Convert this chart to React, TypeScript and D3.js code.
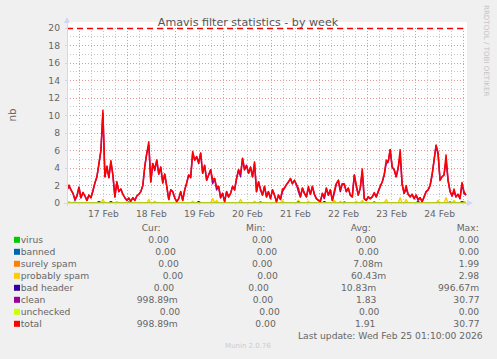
import React from 'react';
import * as d3 from 'd3';

const W = 497;
const H = 359;

const START = new Date(2026, 1, 16, 17, 50);
const END = new Date(2026, 1, 25, 1, 10);

// hourly samples of "clean"
const cleanValues = [
  1.5, 1.9, 1.5, 1.1, 0.3, 0.8, 1.8, 0.6, 1.2, 0.8,
  0.3, 0.9, 0.6, 1.4, 2.3, 3.0, 4.4, 6.0, 10.2, 3.0,
  4.2, 2.9, 4.7, 3.2, 0.7, 2.3, 1.3, 1.6, 1.0, 0.6,
  0.3, 0.5, 0.2, 0.6, 0.3, 0.8, 1.0, 1.3, 2.0, 4.2,
  5.7, 6.6, 2.4, 4.5, 3.7, 4.9, 3.3, 4.1, 2.3, 3.3,
  1.9, 0.4, 1.5, 1.3, 0.6, 0.15, 0.5, 1.3, 0.3, 1.5,
  2.3, 3.2, 2.9, 5.7, 4.9, 5.3, 4.5, 5.7, 3.4, 4.3,
  2.6, 3.2, 3.8, 2.2, 2.8, 1.5, 1.9, 0.6, 1.1, 0.15,
  1.3, 0.7, 1.1, 1.9, 1.5, 2.8, 3.8, 3.0, 5.1, 3.8,
  4.3, 3.4, 4.1, 3.0, 4.5, 1.3, 2.4, 1.5, 0.9, 1.9,
  0.7, 1.3, 0.5, 1.5, 0.9, 0.15, 0.9, 0.4, 1.3, 1.7,
  2.1, 2.4, 2.8, 2.2, 2.6, 2.1, 1.3, 0.7, 1.7, 1.1,
  0.7, 1.7, 1.0, 1.9, 1.0, 0.5, 0.3, 0.15, 1.1, 0.5,
  1.7, 0.9, 1.5, 0.3, 1.1, 2.2, 2.6, 1.3, 2.2, 2.1,
  1.3, 1.7, 0.9, 0.7, 3.2, 1.9, 0.9, 1.7, 3.6, 0.5,
  0.3, 0.7, 0.5, 0.7, 1.1, 0.7, 1.3, 1.9, 2.4, 3.2,
  4.5, 4.7, 6.1, 4.1, 3.8, 3.0, 4.0, 5.5, 2.1, 1.1,
  1.6, 1.0, 0.7, 1.0, 0.5, 0.9, 0.3, 0.6, 0.15, 0.7,
  1.3, 1.5, 2.0, 3.2, 4.9, 6.6, 5.5, 2.6, 3.0, 3.2,
  4.9, 2.6, 1.3, 0.8, 1.3, 0.7, 1.0, 0.5, 2.2, 1.1, 0.9,
];

// [sample index, value] for the few non-zero samples
const probablySpamBumps: [number, number][] = [
  [1, 0.15], [4, 0.15], [18, 0.4], [25, 0.15], [41, 0.4], [44, 0.2], [63, 0.2],
  [73, 0.5], [75, 0.3], [87, 0.4], [94, 0.2], [108, 0.3], [116, 0.3], [121, 0.2],
  [134, 0.3], [137, 0.2], [145, 0.2], [148, 0.3], [160, 0.4], [167, 0.6],
  [170, 0.4], [186, 0.3], [190, 0.6], [194, 0.3], [199, 0.2],
];
const badHeaderBumps: [number, number][] = [
  [16, 0.15], [22, 0.15], [31, 0.1], [66, 0.15], [97, 0.1], [116, 0.1],
  [129, 0.15], [139, 0.1], [154, 0.1], [176, 0.15], [192, 0.1], [198, 0.15],
];

const seriesNames = ['virus', 'banned', 'surely spam', 'probably spam', 'bad header', 'clean', 'unchecked', 'total'];
const seriesColors = ['#00cc00', '#0066b3', '#ff8000', '#ffcc00', '#330099', '#990099', '#ccff00', '#ff0000'];
const curValues = ['0.00', '0.00', '0.00', '0.00', '0.00', '998.89m', '0.00', '998.89m'];
const minValues = ['0.00', '0.00', '0.00', '0.00', '0.00', '0.00', '0.00', '0.00'];
const avgValues = ['0.00', '0.00', '7.08m', '60.43m', '10.83m', '1.83', '0.00', '1.91'];
const maxValues = ['0.00', '0.00', '1.99', '2.98', '996.67m', '30.77', '0.00', '30.77'];
const yTickValues = [0, 2, 4, 6, 8, 10, 12, 14, 16, 18, 20];
const dayLabels = ['17 Feb', '18 Feb', '19 Feb', '20 Feb', '21 Feb', '22 Feb', '23 Feb', '24 Feb'];
const thresholdValue = 20;

// layout (text start positions of the legend columns, per row)
const curX = [148.3, 155.3, 158.3, 162.7, 153.7, 136.7, 159.7, 136.7];
const minX = [252, 256.7, 252, 257.3, 248.3, 252.7, 259.3, 255.3];
const avgX = [355.7, 358.3, 353.3, 351, 341, 356, 359, 355];
const maxX = [458.7, 458.7, 458.7, 458.7, 438, 453.3, 458.7, 453.3];

const FONT = 'DejaVu Sans';
const TXT = '#666666';

function sparse(bumps: [number, number][], n: number): number[] {
  const arr = new Array(n).fill(0);
  bumps.forEach(([i, v]) => { arr[i] = v; });
  return arr;
}

export default function App() {
  const n = cleanValues.length;
  const times = cleanValues.map((_, i) => new Date(START.getTime() + (i * (END.getTime() - START.getTime())) / (n - 1)));
  const zeros = new Array(n).fill(0);
  const probablySpam = sparse(probablySpamBumps, n);
  const badHeader = sparse(badHeaderBumps, n);
  const total = cleanValues.map((v, i) => v + probablySpam[i] + badHeader[i]);
  const series = [zeros, zeros, zeros, probablySpam, badHeader, cleanValues, zeros, total];

  const x0 = 67, x1 = 466, yTop = 28, yBot = 203;
  const x = d3.scaleTime().domain([START, END]).range([x0, x1]);
  const y = d3.scaleLinear().domain([0, 20]).range([yBot, yTop]);

  const line = (vals: number[]) =>
    d3.line<number>().x((_, i) => x(times[i])).y((v) => y(v))(vals) || '';

  const minorTimes = d3.timeHour.every(6)!.range(START, END).filter((t) => t.getHours() !== 0);
  const majorTimes = d3.timeDay.range(START, END);
  const labelTimes = majorTimes.map((t) => d3.timeHour.offset(t, 12));
  const yMinor = d3.range(1, 20, 2);
  const yMajor = yTickValues.filter((v) => v !== 0 && v !== 20);

  const gridMinor = '#c8c8c8';
  const gridMajor = '#e09a9a';
  const axisCol = '#cfd6f8';

  return (
    <svg width={W} height={H} style={{ position: 'absolute', left: 0, top: 0, background: '#f0f0f0' }}
      fontFamily={FONT}>
      <rect x={0} y={0} width={W} height={H} fill="#f0f0f0" />
      <rect x={x0} y={yTop - 6} width={x1 - x0 + 1} height={yBot - yTop + 6} fill="#ffffff" />
      {/* grid */}
      {minorTimes.map((t, i) => (
        <line key={'vm' + i} x1={x(t)} x2={x(t)} y1={yTop} y2={yBot} stroke={gridMinor} strokeDasharray="1,2" shapeRendering="crispEdges" />
      ))}
      {yMinor.map((v) => (
        <line key={'hm' + v} x1={x0} x2={x1} y1={y(v)} y2={y(v)} stroke={gridMinor} strokeDasharray="1,2" shapeRendering="crispEdges" />
      ))}
      {majorTimes.map((t, i) => (
        <line key={'vM' + i} x1={x(t)} x2={x(t)} y1={yTop} y2={yBot} stroke={gridMajor} strokeDasharray="1,2" shapeRendering="crispEdges" />
      ))}
      {yMajor.map((v) => (
        <line key={'hM' + v} x1={x0} x2={x1} y1={y(v)} y2={y(v)} stroke={gridMajor} strokeDasharray="1,2" shapeRendering="crispEdges" />
      ))}
      {/* series */}
      <clipPath id="plotclip"><rect x={x0} y={yTop - 5} width={x1 - x0 + 1} height={yBot - yTop + 5} /></clipPath>
      <g clipPath="url(#plotclip)">
        {series.map((vals, k) => (
          <path key={'s' + k} d={line(vals)} fill="none" stroke={seriesColors[k]} strokeWidth={1.5} strokeLinejoin="round" />
        ))}
      </g>
      {/* threshold */}
      <line x1={x0} x2={x1} y1={y(thresholdValue) + 0.5} y2={y(thresholdValue) + 0.5} stroke="#ff0000" strokeWidth={1.5} strokeDasharray="6,4" />
      {/* axes */}
      <line x1={x0} x2={x0} y1={yBot + 3} y2={yTop - 6} stroke={axisCol} strokeWidth={1} shapeRendering="crispEdges" />
      <path d={`M${x0 - 3},${yTop - 5} L${x0},${yTop - 11} L${x0 + 3},${yTop - 5} Z`} fill={axisCol} />
      <line x1={x0 - 3} x2={x1 + 2} y1={yBot} y2={yBot} stroke={axisCol} strokeWidth={1} shapeRendering="crispEdges" />
      <path d={`M${x1 + 1},${yBot - 3} L${x1 + 7},${yBot} L${x1 + 1},${yBot + 3} Z`} fill={axisCol} />
      {yTickValues.map((v) => (
        <line key={'yt' + v} x1={x0 - 2} x2={x0} y1={y(v)} y2={y(v)} stroke={axisCol} shapeRendering="crispEdges" />
      ))}
      {majorTimes.concat(minorTimes).map((t, i) => (
        <line key={'xt' + i} x1={x(t)} x2={x(t)} y1={yBot} y2={yBot + 2} stroke={axisCol} shapeRendering="crispEdges" />
      ))}
      {/* tick labels */}
      {yTickValues.map((v) => (
        <text key={'yl' + v} x={60} y={y(v) + 3.3} textAnchor="end" fontSize={9.2} fill={TXT}>{v}</text>
      ))}
      {labelTimes.map((t, i) => (
        <text key={'xl' + i} x={x(t)} y={217} textAnchor="middle" fontSize={9.2} fill={TXT}>{dayLabels[i]}</text>
      ))}
      {/* titles */}
      <text x={248} y={26} textAnchor="middle" fontSize={11.1} fill="#555555">Amavis filter statistics - by week</text>
      <text transform="translate(15.5,115) rotate(-90)" textAnchor="middle" fontSize={10.3} fill={TXT}>nb</text>
      <text transform="translate(484,5) rotate(90)" textAnchor="start" fontSize={7.1} fill="#c4c4c4">RRDTOOL / TOBI OETIKER</text>
      {/* legend */}
      <text x={141.7} y={230.5} fontSize={9.2} fill={TXT}>Cur:</text>
      <text x={246} y={230.5} fontSize={9.2} fill={TXT}>Min:</text>
      <text x={350.7} y={230.5} fontSize={9.2} fill={TXT}>Avg:</text>
      <text x={456.7} y={230.5} fontSize={9.2} fill={TXT}>Max:</text>
      {seriesNames.map((name, k) => {
        const by = 243.3 + k * 12;
        return (
          <g key={'lg' + k}>
            <rect x={14} y={by - 6.5} width={6} height={6} fill={seriesColors[k]} />
            <text x={20.7} y={by} fontSize={9.2} fill={TXT}>{name}</text>
            <text x={curX[k]} y={by} fontSize={9.2} fill={TXT}>{curValues[k]}</text>
            <text x={minX[k]} y={by} fontSize={9.2} fill={TXT}>{minValues[k]}</text>
            <text x={avgX[k]} y={by} fontSize={9.2} fill={TXT}>{avgValues[k]}</text>
            <text x={maxX[k]} y={by} fontSize={9.2} fill={TXT}>{maxValues[k]}</text>
          </g>
        );
      })}
      <text x={482.7} y={338.5} textAnchor="end" fontSize={9.2} fill={TXT}>Last update: Wed Feb 25 01:10:00 2026</text>
      <text x={248} y={348} textAnchor="middle" fontSize={7} fill="#cccccc">Munin 2.0.76</text>
    </svg>
  );
}
